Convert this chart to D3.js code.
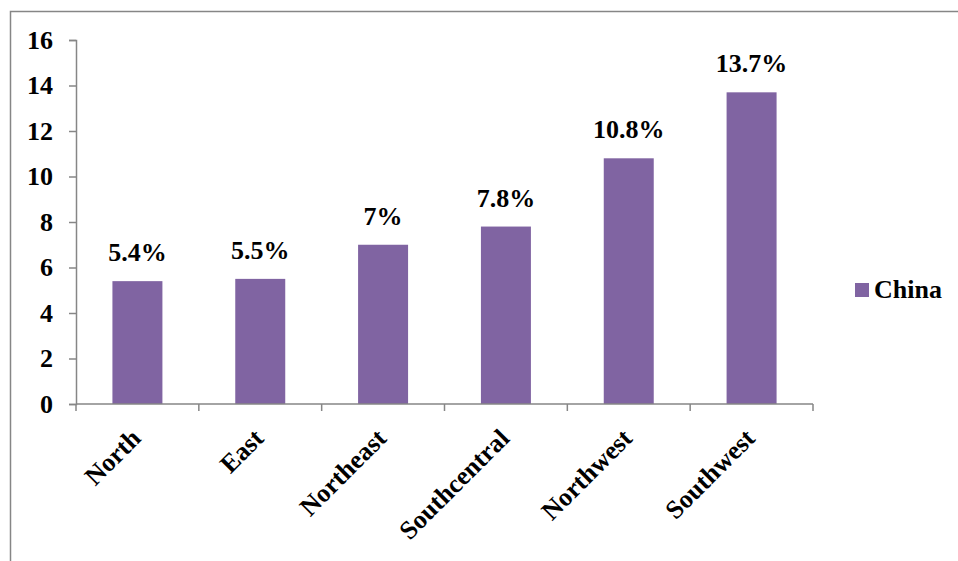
<!DOCTYPE html>
<html>

<head>
    <title>china bars</title>
    <script src="https://d3js.org/d3.v7.min.js"></script>
    <style>
        body { margin: 0; background: #fff; }
        text { font-family: "Liberation Serif", Tinos, "Times New Roman", "DejaVu Serif", serif; font-weight: bold; }
    </style>
</head>

<body>
    <svg width="958" height="561" id="mainsvg"></svg>
    <script>
        // data
        const regions = ['North', 'East', 'Northeast', 'Southcentral', 'Northwest', 'Southwest'];
        const values = [5.4, 5.5, 7, 7.8, 10.8, 13.7];
        const yTicks = [0, 2, 4, 6, 8, 10, 12, 14, 16];
        const seriesName = 'China';

        const svg = d3.select('#mainsvg');
        const barColor = '#8064a2', axisColor = '#868686';
        const margin = { top: 40, left: 76, right: 145, bottom: 157 };
        const width = 958, height = 561;
        const fs = 26;

        // outer frame (runs off the right and bottom edges)
        svg.append('rect')
            .attr('x', 10.5).attr('y', 11.5)
            .attr('width', 1000).attr('height', 1000)
            .attr('fill', 'none')
            .attr('stroke', axisColor)
            .attr('stroke-width', 1.5);

        const x = d3.scaleBand().domain(regions)
            .range([margin.left, width - margin.right])
            .paddingInner(0.593).paddingOuter(0.2965);
        const y = d3.scaleLinear().domain([0, 16])
            .range([height - margin.bottom, margin.top]);

        const g = svg.append('g');

        g.selectAll('rect.bar').data(values)
            .enter().append('rect')
            .attr('class', 'bar')
            .attr('x', (d, i) => x(regions[i]))
            .attr('y', d => y(d))
            .attr('width', x.bandwidth())
            .attr('height', d => y(0) - y(d))
            .attr('fill', barColor);

        g.selectAll('text.val').data(values)
            .enter().append('text')
            .attr('class', 'val')
            .attr('x', (d, i) => x(regions[i]) + x.bandwidth() / 2)
            .attr('y', d => y(d) - 20)
            .attr('text-anchor', 'middle')
            .attr('font-size', fs)
            .text(d => d + '%');

        // y axis
        const yAxis = svg.append('g')
            .attr('transform', `translate(${margin.left},0)`)
            .call(d3.axisLeft(y).tickValues(yTicks).tickSize(7).tickPadding(16));
        yAxis.attr('font-family', null);
        yAxis.selectAll('line, path').attr('stroke', axisColor).attr('stroke-width', 1.5);
        yAxis.selectAll('text').attr('font-size', fs).attr('fill', '#000');

        // x axis with ticks on band edges
        const xa = svg.append('g').attr('transform', `translate(0,${y(0)})`);
        const step = (width - margin.right - margin.left) / regions.length;
        xa.append('line')
            .attr('x1', margin.left).attr('x2', width - margin.right)
            .attr('stroke', axisColor).attr('stroke-width', 1.5);
        xa.selectAll('line.tk').data(d3.range(regions.length + 1))
            .enter().append('line')
            .attr('class', 'tk')
            .attr('x1', i => margin.left + i * step).attr('x2', i => margin.left + i * step)
            .attr('y1', 0).attr('y2', 7)
            .attr('stroke', axisColor).attr('stroke-width', 1.5);
        xa.selectAll('text').data(regions)
            .enter().append('text')
            .attr('transform', d => `translate(${x(d) + x.bandwidth() / 2 - 8},${23}) rotate(-45)`)
            .attr('text-anchor', 'end')
            .attr('dy', '0.7em')
            .attr('font-size', fs)
            .text(d => d);

        // legend
        const lg = svg.append('g').attr('transform', 'translate(855,283)');
        lg.append('rect').attr('width', 14).attr('height', 14).attr('fill', barColor);
        lg.append('text').attr('x', 19).attr('y', 15).attr('font-size', fs).text(seriesName);
    </script>
</body>

</html>
